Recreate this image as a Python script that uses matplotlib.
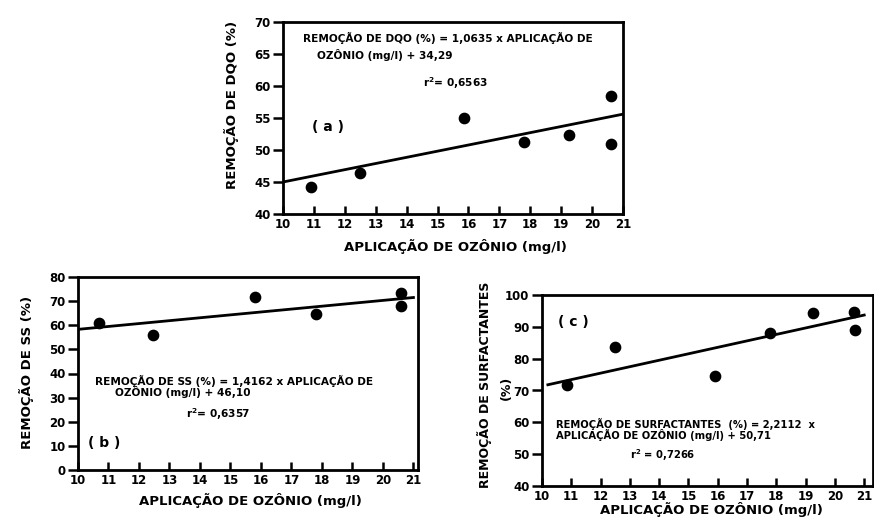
import matplotlib
matplotlib.use("Agg")
import matplotlib.pyplot as plt

plt.rcParams['font.family'] = ['DejaVu Sans']
plt.rcParams['font.weight'] = 'bold'

W, H = 874, 528

# ---- data ----
xa = [10.9, 12.5, 15.85, 17.8, 19.25, 20.6, 20.6]
ya = [44.2, 46.4, 55.0, 51.3, 52.4, 58.5, 51.0]
fit_xa = [10, 21]
fit_ya = [45.0, 55.6]

xb = [10.7, 12.45, 15.8, 17.8, 20.6, 20.6]
yb = [61.0, 55.8, 71.8, 64.5, 73.3, 67.8]
fit_xb = [10, 21]
fit_yb = [58.3, 71.5]

xc = [10.85, 12.5, 15.9, 17.8, 19.25, 20.65, 20.7]
yc = [71.8, 83.6, 74.6, 88.1, 94.2, 94.7, 88.9]
fit_xc = [10.2, 21.0]
fit_yc = [71.8, 93.7]

xticks = [10, 11, 12, 13, 14, 15, 16, 17, 18, 19, 20, 21]
yticks_a = [40, 45, 50, 55, 60, 65, 70]
yticks_b = [0, 10, 20, 30, 40, 50, 60, 70, 80]
yticks_c = [40, 50, 60, 70, 80, 90, 100]

xlabel = "APLICAÇÃO DE OZÔNIO (mg/l)"

fig = plt.figure(figsize=(W / 100, H / 100), dpi=100)


def rect(x0, y0, x1, y1):
    return [x0 / W, 1 - y1 / H, (x1 - x0) / W, (y1 - y0) / H]


def ftxt(x, y, s, **kw):
    fig.text(x / W, 1 - y / H, s, **kw)


def style(ax, xlim, ylim, yt):
    ax.set_xlim(*xlim)
    ax.set_ylim(*ylim)
    ax.set_xticks(xticks)
    ax.set_yticks(yt)
    for sp in ax.spines.values():
        sp.set_linewidth(2.0)
    ax.tick_params(axis='x', direction='in', length=6, width=1.8,
                   labelsize=8.5, pad=3)
    ax.tick_params(axis='y', direction='out', length=7, width=1.8,
                   labelsize=8.5, pad=2)
    for lab in ax.get_xticklabels() + ax.get_yticklabels():
        lab.set_fontweight('bold')


# (a)
axa = fig.add_axes(rect(283, 22, 623, 214))
axa.plot(fit_xa, fit_ya, color='black', lw=2.0)
axa.scatter(xa, ya, s=55, color='black', zorder=3)
style(axa, (10, 21), (40, 70), yticks_a)
ftxt(232, 105, "REMOÇÃO DE DQO (%)", rotation=90, ha='center', va='center',
     fontsize=9.5, fontweight='bold')
ftxt(455, 251, xlabel, ha='center', va='baseline', fontsize=9.5, fontweight='bold')
ftxt(303, 38, "REMOÇÃO DE DQO (%) = 1,0635 x APLICAÇÃO DE", ha='left',
     va='center', fontsize=7.6, fontweight='bold')
ftxt(317, 55, "OZÔNIO (mg/l) + 34,29", ha='left', va='center', fontsize=7.6,
     fontweight='bold')
ftxt(423, 83, "r$^{\\mathbf{2}}$= 0,6563", ha='left', va='center', fontsize=7.6,
     fontweight='bold')
ftxt(312, 127, "( a )", ha='left', va='center', fontsize=10, fontweight='bold')

# (b)
axb = fig.add_axes(rect(78, 277, 418, 470))
axb.plot(fit_xb, fit_yb, color='black', lw=2.0)
axb.scatter(xb, yb, s=55, color='black', zorder=3)
style(axb, (10, 21.15), (0, 80), yticks_b)
ftxt(26, 372, "REMOÇÃO DE SS (%)", rotation=90, ha='center', va='center',
     fontsize=9.5, fontweight='bold')
ftxt(250, 505, xlabel, ha='center', va='baseline', fontsize=9.5, fontweight='bold')
ftxt(95, 381, "REMOÇÃO DE SS (%) = 1,4162 x APLICAÇÃO DE", ha='left',
     va='center', fontsize=7.6, fontweight='bold')
ftxt(115, 392, "OZÔNIO (mg/l) + 46,10", ha='left', va='center', fontsize=7.6,
     fontweight='bold')
ftxt(186, 414, "r$^{\\mathbf{2}}$= 0,6357", ha='left', va='center', fontsize=7.6,
     fontweight='bold')
ftxt(88, 443, "( b )", ha='left', va='center', fontsize=10, fontweight='bold')

# (c)
axc = fig.add_axes(rect(542, 295, 873, 486))
axc.plot(fit_xc, fit_yc, color='black', lw=2.0)
axc.scatter(xc, yc, s=55, color='black', zorder=3)
style(axc, (10, 21.3), (40, 100), yticks_c)
ftxt(484, 385, "REMOÇÃO DE SURFACTANTES", rotation=90, ha='center', va='center',
     fontsize=9, fontweight='bold')
ftxt(506, 388, "(%)", rotation=90, ha='center', va='center',
     fontsize=9, fontweight='bold')
ftxt(711, 514, xlabel, ha='center', va='baseline', fontsize=9.5, fontweight='bold')
ftxt(556, 424, "REMOÇÃO DE SURFACTANTES  (%) = 2,2112  x", ha='left',
     va='center', fontsize=7.2, fontweight='bold')
ftxt(556, 435, "APLICAÇÃO DE OZÔNIO (mg/l) + 50,71", ha='left', va='center',
     fontsize=7.2, fontweight='bold')
ftxt(630, 455, "r$^{\\mathbf{2}}$ = 0,7266", ha='left', va='center', fontsize=7.2,
     fontweight='bold')
ftxt(558, 322, "( c )", ha='left', va='center', fontsize=10, fontweight='bold')

fig.savefig("out.png", dpi=100, facecolor='white')
